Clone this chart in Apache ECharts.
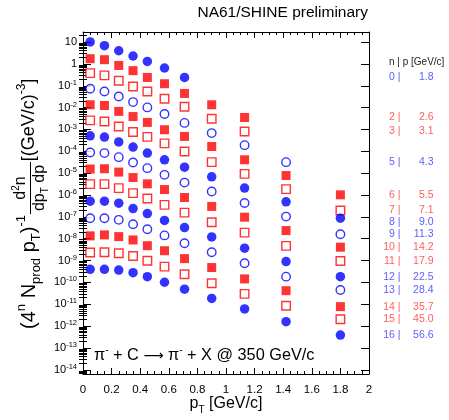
<!DOCTYPE html>
<html><head><meta charset="utf-8">
<script src="https://cdn.jsdelivr.net/npm/echarts@6/dist/echarts.min.js"></script>
<style>html,body{margin:0;padding:0;background:#fff}#c{width:449px;height:420px}</style>
</head><body><div id="c"></div>
<script>
// pT bin centres [GeV/c]
const pT = [0.05, 0.15, 0.25, 0.35, 0.45, 0.57, 0.71, 0.9, 1.13, 1.42, 1.8];
// n index and momentum of each bin
const nList = [0, 2, 3, 5, 6, 7, 8, 9, 10, 11, 12, 13, 14, 15, 16];
const pList = ['1.8', '2.6', '3.1', '4.3', '5.5', '7.1', '9.0', '11.3', '14.2', '17.9', '22.5', '28.4', '35.7', '45.0', '56.6'];
// y-axis decade tick values
const yDecades = [1e-14, 1e-13, 1e-12, 1e-11, 1e-10, 1e-9, 1e-8, 1e-7, 1e-6, 1e-5, 1e-4, 1e-3, 1e-2, 1e-1, 1, 10];
// spectra (scaled by 4^-n), values per pT bin
const n0  = [10.1, 6.8, 4.0, 2.3, 1.3, 0.65, 0.24];
const n2  = [1.73, 1.56, 0.85, 0.49, 0.24, 0.124, 0.0445, 0.0135, 0.00354];
const n3  = [0.38, 0.30, 0.17, 0.093, 0.055, 0.0254, 0.0109, 0.00308, 8.1e-4];
const n5  = [0.073, 0.055, 0.032, 0.0179, 0.0102, 0.0051, 0.0020, 6.8e-4, 1.92e-4, 3.2e-5];
const n6  = [0.0135, 0.0125, 0.0067, 0.0039, 0.0021, 9.7e-4, 4.8e-4, 1.66e-4, 4.1e-5, 7.8e-6, 1.02e-6];
const n7  = [0.0026, 0.0023, 0.00137, 7.6e-4, 4.6e-4, 2.3e-4, 9.8e-5, 3.2e-5, 9.3e-6, 1.86e-6, 1.95e-7];
const n8  = [5.1e-4, 4.5e-4, 2.7e-4, 1.56e-4, 8.3e-5, 4.1e-5, 1.89e-5, 6.8e-6, 2.07e-6, 4.9e-7, 8.7e-8];
const n9  = [8.8e-5, 8.3e-5, 5.4e-5, 3.1e-5, 1.7e-5, 8.4e-6, 3.7e-6, 1.44e-6, 4.3e-7, 1.03e-7, 1.61e-8];
const n10 = [1.55e-5, 1.6e-5, 1.12e-5, 6.3e-6, 3.25e-6, 1.78e-6, 7.7e-7, 3.0e-7, 9.7e-8, 2.36e-8, 4.1e-9];
const n11 = [3.15e-6, 3.15e-6, 2.07e-6, 1.22e-6, 6.9e-7, 3.55e-7, 1.57e-7, 5.7e-8, 1.91e-8, 4.7e-9, 9.6e-10];
const n12 = [5.2e-7, 5.2e-7, 4.25e-7, 2.4e-7, 1.42e-7, 6.9e-8, 3.24e-8, 1.21e-8, 3.7e-9, 9.0e-10, 1.84e-10];
const n13 = [8.7e-8, 8.7e-8, 7.3e-8, 4.6e-8, 2.73e-8, 1.42e-8, 6.2e-9, 2.42e-9, 7.6e-10, 1.84e-10, 4.5e-11];
const n14 = [1.35e-8, 1.5e-8, 1.25e-8, 8.8e-9, 4.8e-9, 2.83e-9, 1.23e-9, 4.8e-10, 1.45e-10, 4.2e-11, 7.8e-12];
const n15 = [2.36e-9, 2.4e-9, 2.17e-9, 1.63e-9, 9.9e-10, 5.3e-10, 2.37e-10, 9.2e-11, 3.0e-11, 8.6e-12, 2.06e-12];
const n16 = [4.0e-10, 4.0e-10, 3.7e-10, 2.8e-10, 1.84e-10, 1.02e-10, 4.9e-11, 1.85e-11, 6.1e-12, 1.6e-12, 3.9e-13];
const seriesValues = [n0, n2, n3, n5, n6, n7, n8, n9, n10, n11, n12, n13, n14, n15, n16];

// marker styles (by n)
const BLUE = '#0000ff', RED = '#ff0000';
const styleOf = {
  0: 'bf', 2: 'rf', 3: 'ro', 5: 'bo', 6: 'rf', 7: 'ro', 8: 'bf', 9: 'bo',
  10: 'rf', 11: 'ro', 12: 'bf', 13: 'bo', 14: 'rf', 15: 'ro', 16: 'bf'
};
const labelNudge = { 8: 4 };

const yMin = Math.pow(10, -14.19), yMax = Math.pow(10, 1.46);
const FONT = 'Liberation Sans, Arial, Helvetica, sans-serif';

// minor tick positions of the log axis (2..9 x 10^e)
const yMinor = [];
for (let e = -15; e <= 1; e++) for (let k = 2; k <= 9; k++) {
  const v = k * Math.pow(10, e); if (v > yMin && v < yMax) yMinor.push(v);
}

function markerFor(code) {
  const col = code[0] === 'b' ? BLUE : RED;
  const filled = code[1] === 'f';
  const isCircle = code[0] === 'b';
  return {
    symbol: isCircle ? 'circle' : 'rect',
    symbolSize: isCircle ? (filled ? 9.5 : 8.5) : (filled ? 9 : 8.5),
    itemStyle: filled ? { color: col } : { color: '#ffffff', borderColor: col, borderWidth: 1.4 }
  };
}

const series = seriesValues.map((vals, i) => {
  const m = markerFor(styleOf[nList[i]]);
  return Object.assign({
    type: 'scatter', xAxisIndex: 0, yAxisIndex: 0,
    data: vals.map((v, j) => [pT[j], v]),
    z: 3, silent: true
  }, m);
});

// right-hand n | p column, placed at last point of each spectrum
series.push({
  type: 'scatter', xAxisIndex: 2, yAxisIndex: 4, symbol: 'circle', symbolSize: 1, silent: true,
  itemStyle: { color: 'rgba(0,0,0,0)' },
  data: seriesValues.map((vals, i) => {
    const n = nList[i];
    const col = styleOf[n][0] === 'b' ? '#3333ff' : '#ff3333';
    return {
      value: [0, vals[vals.length - 1]],
      label: {
        show: true, position: 'right', distance: 0, offset: [0, labelNudge[n] || 0],
        formatter: '{n|' + n + ' |}{p|' + pList[i] + '}',
        rich: {
          n: { width: 22, align: 'right', color: col, fontSize: 10.5, fontFamily: FONT },
          p: { width: 33, align: 'right', color: col, fontSize: 10.5, fontFamily: FONT }
        }
      }
    };
  })
});

function yLab(v) {
  const l = Math.log10(v); const e = Math.round(l);
  if (Math.abs(l - e) > 1e-6) return '';
  if (e === 1) return '10';
  if (e === 0) return '1';
  return '{b|10}{s|' + e + '}';
}

const lineBlack = { show: true, onZero: false, lineStyle: { color: '#000', width: 1 } };

function yAx(position, labels, ticks, len, withLine) {
  return {
    type: 'log', gridIndex: 0, min: yMin, max: yMax, position: position,
    axisLine: withLine ? lineBlack : { show: false },
    splitLine: { show: false },
    axisTick: { show: true, inside: true, length: len, customValues: ticks, lineStyle: { color: '#000' } },
    axisLabel: labels ? {
      show: true, customValues: yDecades,
      color: '#000', fontSize: 11, fontFamily: FONT, margin: 6, formatter: yLab,
      rich: {
        b: { fontSize: 11, fontFamily: FONT, color: '#000', lineHeight: 14 },
        s: { fontSize: 7.5, fontFamily: FONT, color: '#000', verticalAlign: 'top', lineHeight: 8 }
      }
    } : { show: false }
  };
}

function xAx(position, labels) {
  return {
    type: 'value', gridIndex: 0, min: 0, max: 2, interval: 0.2, position: position,
    axisLine: lineBlack, splitLine: { show: false },
    axisTick: { show: true, inside: true, length: 6, lineStyle: { color: '#000' } },
    minorTick: { show: true, splitNumber: 4, length: 3, lineStyle: { color: '#000' } },
    axisLabel: labels ? { color: '#000', fontSize: 11.5, fontFamily: FONT, margin: 10 } : { show: false }
  };
}

const option = {
  backgroundColor: '#fff',
  animation: false,
  grid: [
    { left: 83, top: 32, width: 286, bottom: 46 },
    { left: 378, top: 32, width: 60, bottom: 46 }
  ],
  xAxis: [
    xAx('bottom', true),
    xAx('top', false),
    { type: 'value', gridIndex: 1, min: 0, max: 1, show: false }
  ],
  yAxis: [
    yAx('left', true, yDecades, 8, true),
    yAx('right', false, yDecades, 8, true),
    yAx('left', false, yMinor, 4, false),
    yAx('right', false, yMinor, 4, false),
    { type: 'log', gridIndex: 1, min: yMin, max: yMax, show: false }
  ],
  series: series,
  graphic: [
    { type: 'text', right: 81, top: 5,
      style: { text: 'NA61/SHINE preliminary', fontSize: 15.5, fontFamily: FONT, fill: '#000' } },
    { type: 'text', left: 389, top: 57,
      style: { text: 'n | p [GeV/c]', fontSize: 10, fontFamily: FONT, fill: '#222' } },
    { type: 'text', x: 94, y: 356,
      style: {
        text: '{b|\u03c0}{s|-}{b| + C }{a|\u27f6}{b| \u03c0}{s|-}{b| + X @ 350 GeV/c}',
        x: 0, y: 0, verticalAlign: 'middle',
        rich: {
          b: { fontSize: 16.3, fontFamily: FONT, fill: '#000', lineHeight: 22 },
          a: { fontSize: 14, fontFamily: 'DejaVu Sans', fill: '#000', lineHeight: 22 },
          s: { fontSize: 10, fontFamily: FONT, fill: '#000', verticalAlign: 'top', lineHeight: 10 }
        }
      } },
    { type: 'text', x: 226, y: 404,
      style: {
        text: '{b|p}{t|T}{b| [GeV/c]}', x: 0, y: 0, align: 'center', verticalAlign: 'middle',
        rich: {
          b: { fontSize: 16, fontFamily: FONT, fill: '#000', lineHeight: 22 },
          t: { fontSize: 10, fontFamily: FONT, fill: '#000', verticalAlign: 'bottom', lineHeight: 10 }
        }
      } },
    // y-axis title (rotated)
    { type: 'text', x: 29, y: 272, rotation: Math.PI / 2,
      style: {
        text: '{b|(4}{p|n}{b| N}{q|prod}{b| p}{q|T}{b|)}{p|-1}', x: 0, y: 0, align: 'center', verticalAlign: 'middle',
        rich: {
          b: { fontSize: 20, fontFamily: FONT, fill: '#000', lineHeight: 28 },
          p: { fontSize: 13, fontFamily: FONT, fill: '#000', verticalAlign: 'top', lineHeight: 12 },
          q: { fontSize: 13, fontFamily: FONT, fill: '#000', verticalAlign: 'bottom', lineHeight: 12 }
        }
      } },
    { type: 'text', x: 21, y: 188, rotation: Math.PI / 2,
      style: {
        text: '{b|d}{p|2}{b|n}', x: 0, y: 0, align: 'center', verticalAlign: 'middle',
        rich: {
          b: { fontSize: 16, fontFamily: FONT, fill: '#000', lineHeight: 20 },
          p: { fontSize: 10, fontFamily: FONT, fill: '#000', verticalAlign: 'top', lineHeight: 10 }
        }
      } },
    { type: 'line', shape: { x1: 30.5, y1: 162, x2: 30.5, y2: 214 }, style: { stroke: '#000', lineWidth: 1 } },
    { type: 'text', x: 40, y: 188, rotation: Math.PI / 2,
      style: {
        text: '{b|dp}{q|T}{b| dp}', x: 0, y: 0, align: 'center', verticalAlign: 'middle',
        rich: {
          b: { fontSize: 16, fontFamily: FONT, fill: '#000', lineHeight: 20 },
          q: { fontSize: 10, fontFamily: FONT, fill: '#000', verticalAlign: 'bottom', lineHeight: 10 }
        }
      } },
    { type: 'text', x: 29, y: 120, rotation: Math.PI / 2,
      style: {
        text: '{b|[(GeV/c)}{p|-3}{b|]}', x: 0, y: 0, align: 'center', verticalAlign: 'middle',
        rich: {
          b: { fontSize: 18, fontFamily: FONT, fill: '#000', lineHeight: 26 },
          p: { fontSize: 12, fontFamily: FONT, fill: '#000', verticalAlign: 'top', lineHeight: 11 }
        }
      } }
  ]
};

const chart = echarts.init(document.getElementById('c'), null, { renderer: 'canvas' });
chart.setOption(option);
</script>
</body></html>
